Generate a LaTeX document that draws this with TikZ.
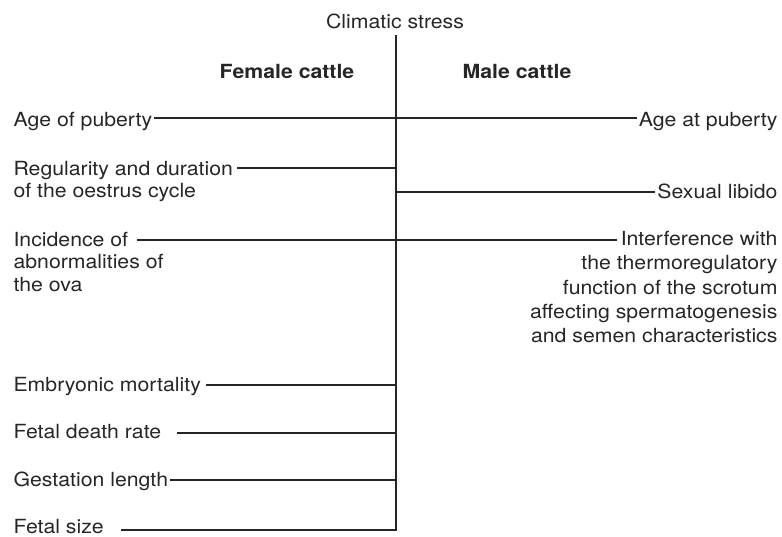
\documentclass[tikz,border=0pt]{standalone}
\usepackage{fontspec}
\setmainfont[FakeStretch=1.09]{TeX Gyre Heros}
\begin{document}
\begin{tikzpicture}[x=1pt, y=-1pt, line width=1.1pt, black!85,
    lbl/.style={inner sep=0pt, font=\fontsize{19.5}{22.5}\selectfont},
    head/.style={lbl, font=\fontsize{19.5}{22.5}\selectfont\bfseries}]
    \useasboundingbox (0,0) rectangle (782,536);
    % Headings
    \node[lbl, anchor=base] (stress) at (395,28) {Climatic stress};
    \node[head, anchor=base] (female) at (287,78) {Female cattle};
    \node[head, anchor=base] (male) at (517,78) {Male cattle};
    % Trunk
    \coordinate (top) at (396,35); \coordinate (bot) at (396,531);
    \draw (top) -- (bot);
    % Female side
    \foreach \n/\bl/\y/\g/\txt in {agef/126.5/118/1/Age of puberty,
        reg/175/168/3/Regularity and duration, inc/246/240/8/Incidence of,
        emb/391.5/385/5/Embryonic mortality, death/438.5/433/15/Fetal death rate,
        gest/486.5/480/1/Gestation length, size/533/530/17/Fetal size} {
        \node[lbl, anchor=base west] (\n) at (13,\bl) {\txt};
        \coordinate (\n-t) at (396,\y);
        \draw (\n-t) -- ([xshift=\g pt]\n-t -| \n.east);
    }
    \node[lbl, anchor=base west] (reg2) at (13,197.5) {of the oestrus cycle};
    \node[lbl, anchor=base west] (inc2) at (13,268.5) {abnormalities of};
    \node[lbl, anchor=base west] (inc3) at (13,291.5) {the ova};
    % Male side
    \foreach \n/\bl/\y/\g/\txt in {agem/126/118/1/Age at puberty,
        libido/198.5/192/2/Sexual libido, scrot/245/240/3/Interference with} {
        \node[lbl, anchor=base east] (\n) at (778,\bl) {\txt};
        \coordinate (\n-t) at (396,\y);
        \draw (\n-t) -- ([xshift=-\g pt]\n-t -| \n.west);
    }
    \node[lbl, anchor=base east] (scrot2) at (778,269.3) {the thermoregulatory};
    \node[lbl, anchor=base east] (scrot3) at (778,294) {function of the scrotum};
    \node[lbl, anchor=base east] (scrot4) at (778,318.3) {affecting spermatogenesis};
    \node[lbl, anchor=base east] (scrot5) at (778,342.3) {and semen characteristics};
\end{tikzpicture}
\end{document}
